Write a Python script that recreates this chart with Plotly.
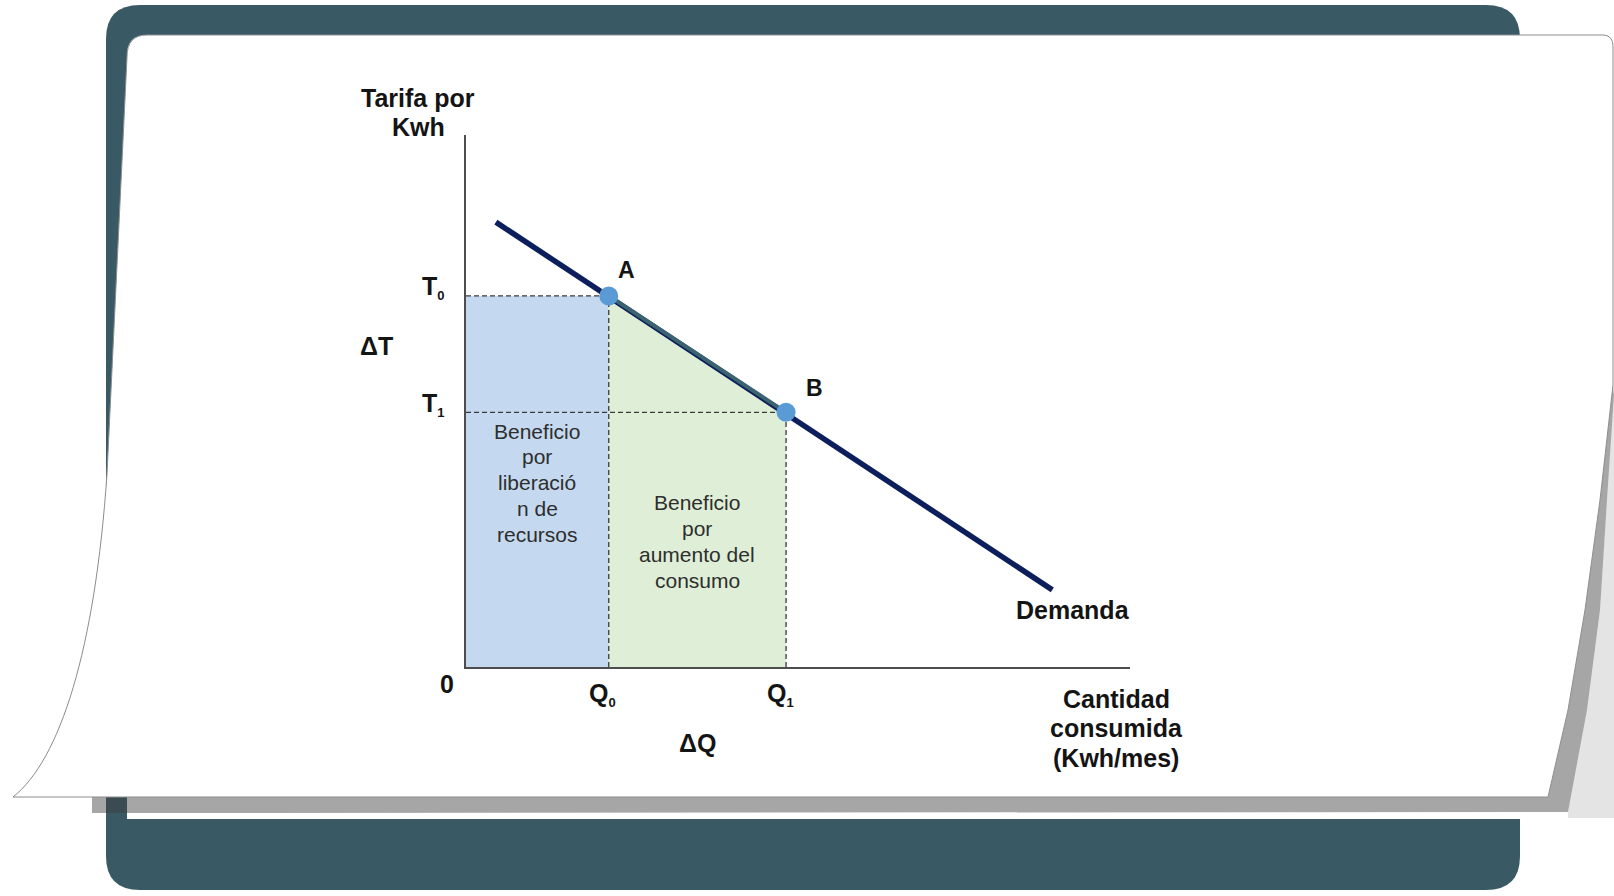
import plotly.graph_objects as go

# ---------------- data ----------------
demand_q = [0.45, 8.83]          # Demand line end points (quantity)
demand_t = [6.69, 1.16]          # Demand line end points (tariff)
point_labels = ["A", "B"]
point_q = [2.15, 4.82]           # Q0, Q1
point_t = [5.58, 3.83]           # T0, T1
x_tick_labels = ["Q", "Q"]
x_tick_subs = ["0", "1"]
y_tick_labels = ["T", "T"]
y_tick_subs = ["0", "1"]
region_lines = [["Beneficio", "por", "liberació", "n de", "recursos"],
                ["Beneficio", "por", "aumento del", "consumo"]]
region_text_t = [2.77, 1.89]
y_title_lines = ["Tarifa por", "Kwh"]
x_title_lines = ["Cantidad", "consumida", "(Kwh/mes)"]
x_range = [0, 10]
y_range = [0, 8]

Q0, Q1 = point_q
T0, T1 = point_t

W, H = 1614, 896
FONT = "Liberation Sans, Arial, Helvetica, sans-serif"
TEAL = "#395a65"
TXT = "#141414"


def fx(x):
    return x / W


def fy(y):
    return 1 - y / H


def P(x, y):
    return f"{fx(x):.5f},{fy(y):.5f}"


def rrect(x0, y0, x1, y1, r):
    return (f"M {P(x0 + r, y0)} L {P(x1 - r, y0)} Q {P(x1, y0)} {P(x1, y0 + r)} "
            f"L {P(x1, y1 - r)} Q {P(x1, y1)} {P(x1 - r, y1)} "
            f"L {P(x0 + r, y1)} Q {P(x0, y1)} {P(x0, y1 - r)} "
            f"L {P(x0, y0 + r)} Q {P(x0, y0)} {P(x0 + r, y0)} Z")


def poly(pts):
    return "M " + " L ".join(P(x, y) for x, y in pts) + " Z"


def sub(base, s):
    return f"<b>{base}<sub><span style='font-size:13px'>{s}</span></sub></b>"


fig = go.Figure()

fig.add_trace(go.Scatter(x=[0, 0, Q0, Q0], y=[0, T0, T0, 0], fill="toself",
                         fillcolor="#c4d9ef", line=dict(width=0), mode="lines",
                         hoverinfo="skip", showlegend=False))
fig.add_trace(go.Scatter(x=[Q0, Q0, Q1, Q1], y=[0, T0, T1, 0], fill="toself",
                         fillcolor="#dfeed6", line=dict(width=0), mode="lines",
                         hoverinfo="skip", showlegend=False))
fig.add_trace(go.Scatter(
    x=[0, Q0, None, 0, Q1, None, Q0, Q0, None, Q1, Q1],
    y=[T0, T0, None, T1, T1, None, 0, T0, None, 0, T1],
    mode="lines", line=dict(color="#3a3a3a", width=1.3, dash="5px,3px"),
    hoverinfo="skip", showlegend=False))
fig.add_trace(go.Scatter(x=demand_q, y=demand_t, mode="lines",
                         line=dict(color="#0c1f5c", width=5.5),
                         hoverinfo="skip", showlegend=False))
fig.add_trace(go.Scatter(x=point_q, y=point_t, mode="lines",
                         line=dict(color="#3b6470", width=4),
                         hoverinfo="skip", showlegend=False))
fig.add_trace(go.Scatter(x=point_q, y=point_t, mode="markers",
                         marker=dict(color="#5b9bd5", size=19, line=dict(width=0)),
                         hoverinfo="skip", showlegend=False))

bold = dict(family=FONT, size=25, color=TXT)
anns = []
for line, yy in zip(y_title_lines, [98, 127]):
    anns.append(dict(xref="paper", yref="paper", x=fx(418), y=fy(yy),
                     text=f"<b>{line}</b>", showarrow=False, font=bold,
                     xanchor="center", yanchor="middle"))
for line, yy in zip(x_title_lines, [699, 728, 758]):
    anns.append(dict(xref="paper", yref="paper", x=fx(1116), y=fy(yy),
                     text=f"<b>{line}</b>", showarrow=False, font=bold,
                     xanchor="center", yanchor="middle"))
for t, lab, s in zip(point_t, y_tick_labels, y_tick_subs):
    anns.append(dict(x=0, y=t, text=sub(lab, s), showarrow=False, font=bold,
                     xanchor="right", yanchor="middle", xshift=-19, yshift=8))
for q, lab, s in zip(point_q, x_tick_labels, x_tick_subs):
    anns.append(dict(x=q, y=0, text=sub(lab, s), showarrow=False, font=bold,
                     xanchor="center", yanchor="middle", xshift=-6, yshift=-27))
anns.append(dict(x=0, y=0, text="<b>0</b>", showarrow=False, font=bold,
                 xanchor="center", yanchor="middle", xshift=-19, yshift=-17))
anns.append(dict(xref="paper", yref="paper", x=fx(376), y=fy(346),
                 text="<b>ΔT</b>", showarrow=False, font=bold,
                 xanchor="center", yanchor="middle"))
anns.append(dict(xref="paper", yref="paper", x=fx(697), y=fy(743),
                 text="<b>ΔQ</b>", showarrow=False, font=bold,
                 xanchor="center", yanchor="middle"))
for q, t, lab, dx, dy in zip(point_q, point_t, point_labels, [18, 28], [26, 24]):
    anns.append(dict(x=q, y=t, text=f"<b>{lab}</b>", showarrow=False,
                     font=dict(family=FONT, size=23, color=TXT),
                     xanchor="center", yanchor="middle", xshift=dx, yshift=dy))
anns.append(dict(x=demand_q[1], y=demand_t[1], text="<b>Demanda</b>", showarrow=False,
                 font=bold, xanchor="center", yanchor="middle", xshift=21, yshift=-20))
for xq, t, lines in zip([Q0 / 2, (Q0 + Q1) / 2], region_text_t, region_lines):
    n = len(lines)
    for i, line in enumerate(lines):
        anns.append(dict(x=xq, y=t, text=line, showarrow=False,
                         font=dict(family=FONT, size=21, color="#2e2e2e"),
                         xanchor="center", yanchor="middle",
                         yshift=((n - 1) / 2 - i) * 25.8))

shapes = []
# teal frame
shapes.append(dict(type="path", xref="paper", yref="paper", layer="below",
                   path=rrect(106, 5, 1520, 890, 34), fillcolor=TEAL, line=dict(width=0)))
# inner white of frame (rounded top-left only)
shapes.append(dict(type="path", xref="paper", yref="paper", layer="below",
                   path=(f"M {P(147, 35)} L {P(1520, 35)} L {P(1520, 819)} L {P(127, 819)} "
                         f"L {P(127, 55)} Q {P(127, 35)} {P(147, 35)} Z"),
                   fillcolor="white", line=dict(width=0)))
# light grey area right of the curled page
shapes.append(dict(type="path", xref="paper", yref="paper", layer="below",
                   path=poly([(1614, 395), (1607, 500), (1600, 610), (1587, 710), (1568, 812),
                              (1568, 818), (1614, 818)]),
                   fillcolor="#e4e4e4", line=dict(width=0)))
# shadow of page
shapes.append(dict(type="path", xref="paper", yref="paper", layer="below",
                   path=poly([(92, 797), (1548, 797), (1568, 710), (1585, 610), (1600, 500),
                              (1613, 385), (1614, 395), (1607, 500), (1600, 610),
                              (1587, 710), (1568, 812), (92, 813)]),
                   fillcolor="rgba(60,60,60,0.46)", line=dict(width=0)))
# curled page
shapes.append(dict(type="path", xref="paper", yref="paper", layer="below",
                   path=(f"M {P(147, 35)} L {P(1604, 35)} Q {P(1613, 36)} {P(1613, 46)} "
                         f"L {P(1613, 385)} L {P(1600, 500)} L {P(1585, 610)} L {P(1568, 710)} "
                         f"L {P(1548, 797)} "
                         f"L {P(13, 797)} C {P(60, 760)} {P(95, 650)} {P(107, 474)} "
                         f"L {P(127, 57)} Q {P(127, 35)} {P(147, 35)} Z"),
                   fillcolor="white", line=dict(color="#8c8c8c", width=1)))

fig.update_layout(
    width=W, height=H,
    margin=dict(l=0, r=0, t=0, b=0),
    paper_bgcolor="white", plot_bgcolor="rgba(0,0,0,0)",
    xaxis=dict(domain=[466 / W, 1130 / W], range=x_range, showgrid=False, zeroline=False,
               showticklabels=False, ticks="", showline=True, linecolor="#4d4d4d",
               linewidth=2, fixedrange=True),
    yaxis=dict(domain=[1 - 667 / H, 1 - 135 / H], range=y_range, showgrid=False,
               zeroline=False, showticklabels=False, ticks="", showline=True,
               linecolor="#4d4d4d", linewidth=2, fixedrange=True),
    annotations=anns, shapes=shapes, showlegend=False,
    font=dict(family=FONT),
)

fig.write_html("out.html", config={"displayModeBar": False},
               post_script="document.body.style.margin='0';document.body.style.overflow='hidden';")
